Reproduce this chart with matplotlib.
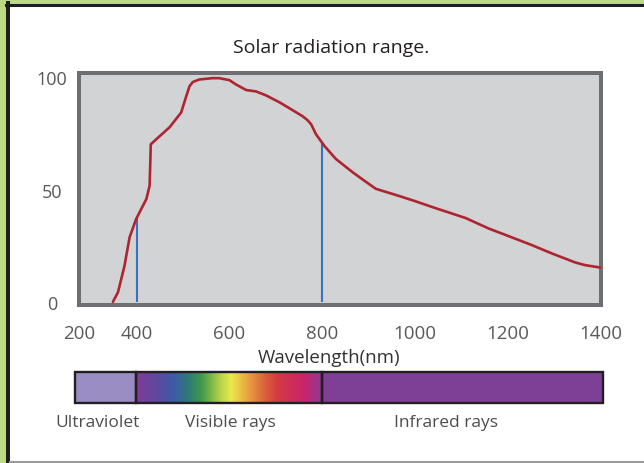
import matplotlib
matplotlib.use("Agg")
import matplotlib.pyplot as plt
import numpy as np
from matplotlib.colors import LinearSegmentedColormap
from matplotlib.lines import Line2D
from matplotlib.patches import Rectangle

# solar spectrum (wavelength nm, relative intensity)
WAVELENGTH = [349, 360, 374, 385, 399, 421, 428, 429.5, 430.5, 442, 471, 496, 507, 514, 521,
              535, 563, 578, 600, 614, 636, 657, 679, 693, 708, 733, 757, 768, 776, 786,
              804, 829, 865, 887, 915, 965, 1001, 1036, 1108, 1158, 1201, 1251, 1294, 1344,
              1365, 1398]
INTENSITY = [0, 4.3, 16.1, 28.8, 36.9, 45.8, 51.7, 62, 70.2, 72.4, 77.8, 84.4, 91.7, 96.1, 98.0,
             99.1, 99.7, 99.7, 98.8, 96.9, 94.4, 93.8, 92.0, 90.5, 88.9, 85.8, 82.8, 81.0, 79.1, 74.8,
             69.6, 63.7, 57.8, 54.5, 50.4, 47.2, 44.8, 42.3, 37.4, 32.7, 29.3, 25.3, 21.6, 17.6,
             16.4, 15.3]

VISIBLE_EDGES = [400, 800]
X_TICKS = [276, 400, 600, 800, 1000, 1200, 1400]
X_TICK_LABELS = ["200", "400", "600", "800", "1000", "1200", "1400"]
Y_TICKS = [0, 50, 100]

BAND_NAMES = ["Ultraviolet", "Visible rays", "Infrared rays"]
BAND_EDGES = [268, 400, 800, 1403]
BAND_LABEL_X = [317, 601, 1066]
UV_COLOR = "#9a8dc3"
IR_COLOR = "#7e3f96"
SPECTRUM = [(0.0, "#7f3c97"), (0.12, "#5b4a9f"), (0.2, "#3d5ba8"), (0.28, "#2f7a78"),
            (0.35, "#3f9a4a"), (0.45, "#b5d24a"), (0.51, "#ebe84c"), (0.6, "#e9a241"),
            (0.7, "#da5a3a"), (0.76, "#d43a45"), (0.9, "#c9246b"), (1.0, "#8c3a97")]

W, H = 644, 464


def px_box(left, top, right, bottom):
    return [left / W, 1 - bottom / H, (right - left) / W, (bottom - top) / H]


def draw_frame(fig):
    fig.patch.set_facecolor("#bcda86")
    fig.add_artist(Rectangle((10 / W, 1 - 462 / H), 1, (462 - 7) / H, zorder=-3,
                             transform=fig.transFigure, facecolor="white", edgecolor="none"))
    fig.add_artist(Line2D([8 / W, 8 / W], [1 - 4 / H, 1 - 462 / H], transform=fig.transFigure,
                          color="#1e1e1e", lw=2.9, zorder=-2))
    fig.add_artist(Line2D([6 / W, 1], [1 - 5.5 / H, 1 - 5.5 / H], transform=fig.transFigure,
                          color="#1e1e1e", lw=2.2, zorder=-2))
    fig.add_artist(Line2D([10 / W, 1], [1 - 463 / H, 1 - 463 / H], transform=fig.transFigure,
                          color="#9a9a9a", lw=1.5, zorder=-2))


def draw_spectrum(fig):
    ax = fig.add_axes(px_box(79, 74, 601, 306))
    ax.set_facecolor("#d1d3d4")
    ax.plot(WAVELENGTH, INTENSITY, color="#ad2530", lw=1.9, solid_capstyle="round", zorder=3)
    for edge in VISIBLE_EDGES:
        ax.vlines(edge, 0, np.interp(edge, WAVELENGTH, INTENSITY), color="#3873bb", lw=1.5, zorder=2)
    ax.set_xlim(276, 1400)
    ax.set_ylim(-1.4, 102)
    for s in ax.spines.values():
        s.set_color("#6d6f72")
        s.set_linewidth(2.9)
    ax.set_xticks(X_TICKS)
    ax.set_xticklabels(X_TICK_LABELS)
    ax.set_yticks(Y_TICKS)
    ax.tick_params(length=0, colors="#58595b")
    ax.tick_params(axis="y", pad=19.5, labelsize=13)
    ax.tick_params(axis="x", pad=14, labelsize=13.5)
    for lab in ax.get_yticklabels():
        lab.set_horizontalalignment("center")
    ax.set_xlabel("Wavelength(nm)", fontsize=13.5, color="#333335", va="center")
    ax.xaxis.set_label_coords((329 - 79) / 522, -(358 - 306) / 232)
    fig.text(331 / W, 1 - 48 / H, "Solar radiation range.", ha="center", va="center",
             fontsize=14, color="#231f20")


def draw_bands(fig):
    ax = fig.add_axes(px_box(75, 373, 603, 404))
    ax.set_xlim(BAND_EDGES[0], BAND_EDGES[-1])
    ax.set_ylim(0, 1)
    ax.axis("off")
    pos = [p for p, c in SPECTRUM]
    cols = [c for p, c in SPECTRUM]
    cmap = LinearSegmentedColormap.from_list("vis", list(zip(pos, cols)))
    grad = np.linspace(0, 1, 256).reshape(1, -1)
    ax.imshow(grad, cmap=cmap, aspect="auto", extent=[BAND_EDGES[1], BAND_EDGES[2], 0, 1])
    ax.add_patch(Rectangle((BAND_EDGES[0], 0), BAND_EDGES[1] - BAND_EDGES[0], 1, facecolor=UV_COLOR))
    ax.add_patch(Rectangle((BAND_EDGES[2], 0), BAND_EDGES[3] - BAND_EDGES[2], 1, facecolor=IR_COLOR))
    for i in range(3):
        ax.add_patch(Rectangle((BAND_EDGES[i], 0), BAND_EDGES[i + 1] - BAND_EDGES[i], 1,
                               facecolor="none", edgecolor="#231f20", lw=1.7, clip_on=False))
    for name, x in zip(BAND_NAMES, BAND_LABEL_X):
        ax.text(x, -0.6, name, ha="center", va="center", fontsize=12.5, color="#4d4d4f")


def main():
    plt.rcParams["font.family"] = ["Open Sans", "DejaVu Sans"]
    fig = plt.figure(figsize=(W / 100, H / 100), dpi=100)
    draw_frame(fig)
    draw_spectrum(fig)
    draw_bands(fig)
    fig.savefig("out.png", dpi=100, facecolor=fig.get_facecolor())
    plt.close()


if __name__ == '__main__':
    main()
